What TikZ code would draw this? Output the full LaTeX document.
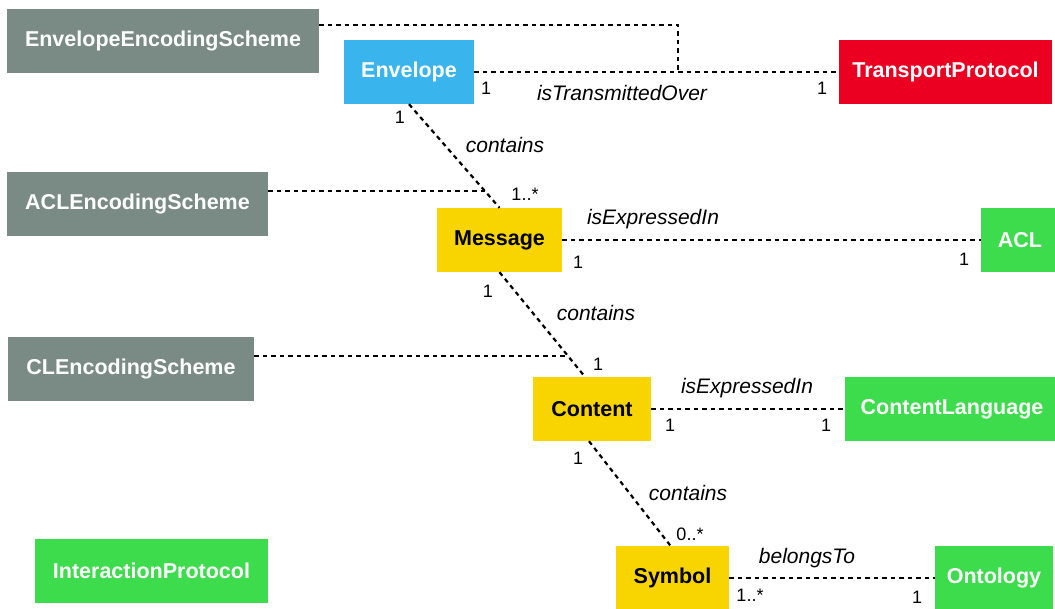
\documentclass[tikz,border=0pt]{standalone}
\usepackage{fontspec}
\setmainfont{Liberation Sans}
\usetikzlibrary{calc}
\definecolor{schemegray}{RGB}{122,139,133}
\definecolor{envblue}{RGB}{58,180,236}
\definecolor{protored}{RGB}{236,0,34}
\definecolor{coreyellow}{RGB}{248,213,0}
\definecolor{extgreen}{RGB}{60,220,76}
\begin{document}
\begin{tikzpicture}[x=1pt,y=-1pt,
  box/.style={inner sep=0pt, minimum height=64, text=white,
    font=\fontsize{21.5}{25}\selectfont\bfseries},
  graybox/.style={box, fill=schemegray},
  bluebox/.style={box, fill=envblue},
  redbox/.style={box, fill=protored},
  yellowbox/.style={box, fill=coreyellow, text=black},
  greenbox/.style={box, fill=extgreen},
  assoc/.style={draw=black, line width=2.2pt, dash pattern=on 4.5pt off 4pt},
  rolename/.style={inner sep=0pt, font=\fontsize{21}{24}\selectfont\itshape},
  mult/.style={inner sep=0pt, font=\fontsize{18}{20}\selectfont}]
\useasboundingbox (0,0) rectangle (1055,608);

% classes
\node[graybox, minimum width=312] (EES) at (163,41) {EnvelopeEncodingScheme};
\node[bluebox, minimum width=130] (Env) at (409,72) {Envelope};
\node[redbox, minimum width=213] (TP) at (945.5,72) {TransportProtocol};
\node[graybox, minimum width=261] (ACLES) at (137.5,204) {ACLEncodingScheme};
\node[yellowbox, minimum width=125] (Msg) at (499.5,240) {Message};
\node[greenbox, minimum width=78] (ACL) at (1020,240) {ACL};
\node[graybox, minimum width=246] (CLES) at (131,369) {CLEncodingScheme};
\node[yellowbox, minimum width=118] (Cnt) at (592,409) {Content};
\node[greenbox, minimum width=214] (CL) at (952,409) {ContentLanguage};
\node[greenbox, minimum width=233] (IP) at (151.5,570.5) {InteractionProtocol};
\node[yellowbox, minimum width=113] (Sym) at (672.5,578) {Symbol};
\node[greenbox, minimum width=118] (Ont) at (994,578) {Ontology};

% associations
\draw[assoc] (Env.east) -- (TP.west);
\coordinate (j1) at ($(Env.east)!0.56!(TP.west)$);
\draw[assoc] ($(EES.north east)+(0,16)$) -| (j1);

\draw[assoc] (Env.south) -- (Msg.north);
\coordinate (j2) at ($(Env.south)!0.84!(Msg.north)$);
\draw[assoc] (ACLES.east |- j2) -- (j2);

\draw[assoc] (Msg.east) -- (ACL.west);

\draw[assoc] (Msg.south) -- ([xshift=-7]Cnt.north);
\coordinate (j3) at ($(Msg.south)!0.8!([xshift=-7]Cnt.north)$);
\draw[assoc] (CLES.east |- j3) -- (j3);

\draw[assoc] (Cnt.east) -- (CL.west);
\draw[assoc] ([xshift=-3]Cnt.south) -- ([xshift=-2]Sym.north);
\draw[assoc] (Sym.east) -- (Ont.west);

% role names and multiplicities
\node[mult] (m1) at (486,88) {1};
\node[rolename] (r1) at (622,93) {isTransmittedOver};
\node[mult] (m2) at (822,88) {1};

\node[mult] (m3) at (400,117) {1};
\node[rolename] (r2) at (505,145) {contains};
\node[mult] (m4) at (525,194) {1..*};

\node[rolename] (r3) at (653,219) {isExpressedIn};
\node[mult] (m5) at (578,262) {1};
\node[mult] (m6) at (964,259) {1};

\node[mult] (m7) at (488,291) {1};
\node[rolename] (r4) at (596,313) {contains};
\node[mult] (m8) at (598,364) {1};

\node[rolename] (r5) at (747,388) {isExpressedIn};
\node[mult] (m9) at (670,425) {1};
\node[mult] (m10) at (826,425) {1};

\node[mult] (m11) at (578,458) {1};
\node[rolename] (r6) at (688,493) {contains};
\node[mult] (m12) at (690,534) {0..*};

\node[rolename] (r7) at (807,558) {belongsTo};
\node[mult] (m13) at (750,595) {1..*};
\node[mult] (m14) at (917,597) {1};
\end{tikzpicture}
\end{document}
